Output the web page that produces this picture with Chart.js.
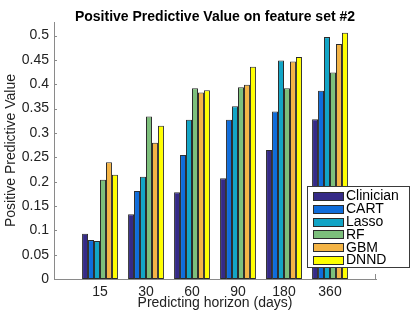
<!DOCTYPE html>
<html>
<head>
<meta charset="utf-8">
<script src="https://cdn.jsdelivr.net/npm/chart.js@4"></script>
<style>
  html, body { margin: 0; padding: 0; background: #fff; }
  #wrap { width: 415px; height: 312px; position: relative; }
</style>
</head>
<body>
<div id="wrap"><canvas id="chart1"></canvas></div>
<script>
// data
var categories = ['15', '30', '60', '90', '180', '360'];
var methods = ['Clinician', 'CART', 'Lasso', 'RF', 'GBM', 'DNND'];
var clinician = [0.093, 0.133, 0.178, 0.207, 0.265, 0.328];
var cart      = [0.080, 0.181, 0.255, 0.327, 0.344, 0.387];
var lasso     = [0.078, 0.210, 0.327, 0.355, 0.449, 0.497];
var rf        = [0.204, 0.334, 0.392, 0.394, 0.392, 0.424];
var gbm       = [0.240, 0.280, 0.383, 0.399, 0.447, 0.483];
var dnnd      = [0.214, 0.315, 0.388, 0.436, 0.456, 0.506];
var colors = ['#352a87', '#0f6ddb', '#12a5c6', '#7cbf7b', '#f4b445', '#ffff00'];

var font = "'Liberation Sans', Arial, Helvetica, sans-serif";
var axisColor = '#8a8a8a';

// empty slot on each side so the groups sit at 1..6 of [0, 7]
function pad(arr) { return [null].concat(arr, [null]); }

var series = [clinician, cart, lasso, rf, gbm, dnnd];
var datasets = series.map(function (vals, i) {
  return {
    label: methods[i],
    data: pad(vals),
    backgroundColor: colors[i],
    borderColor: '#2b2b2b',
    borderWidth: 1,
    borderSkipped: false,
    barPercentage: 1.0,
    categoryPercentage: 0.78
  };
});

// title, inward ticks and the boxed legend
var decor = {
  id: 'decor',
  afterDraw: function (chart) {
    var ctx = chart.ctx;
    var a = chart.chartArea;
    var y = chart.scales.y;
    ctx.save();
    ctx.fillStyle = '#000';
    ctx.font = 'bold 14px ' + font;
    ctx.textAlign = 'center';
    ctx.textBaseline = 'alphabetic';
    ctx.fillText('Positive Predictive Value on feature set #2', (a.left + a.right) / 2, 21);

    ctx.strokeStyle = axisColor;
    ctx.lineWidth = 1;
    ctx.beginPath();
    y.ticks.forEach(function (t) {
      var py = Math.round(y.getPixelForValue(t.value)) + 0.5;
      ctx.moveTo(a.left, py);
      ctx.lineTo(a.left + 3, py);
    });
    var rx = Math.round(a.right) - 0.5;
    ctx.moveTo(rx, a.bottom);
    ctx.lineTo(rx, a.bottom - 5);
    ctx.stroke();

    // legend box
    var lx = 307.5, ly = 186.5, lw = 102, lh = 81;
    ctx.fillStyle = '#fff';
    ctx.fillRect(lx, ly, lw, lh);
    ctx.strokeStyle = '#3a3a3a';
    ctx.strokeRect(lx, ly, lw, lh);
    ctx.font = '14px ' + font;
    ctx.textAlign = 'left';
    ctx.textBaseline = 'middle';
    chart.data.datasets.forEach(function (ds, i) {
      var cy = 196 + i * 12.8;
      ctx.fillStyle = ds.backgroundColor;
      ctx.fillRect(313.5, Math.round(cy - 4) + 0.5, 30, 8);
      ctx.strokeStyle = '#2b2b2b';
      ctx.strokeRect(313.5, Math.round(cy - 4) + 0.5, 30, 8);
      ctx.fillStyle = '#000';
      ctx.fillText(ds.label, 346, cy + 0.5);
    });
    ctx.restore();
  }
};

var graph = document.getElementById('chart1');

var myChart = new Chart(graph, {
  type: 'bar',
  data: {
    labels: pad(categories).map(function (c) { return c === null ? '' : c; }),
    datasets: datasets
  },
  options: {
    responsive: true,
    maintainAspectRatio: false,
    animation: false,
    layout: { padding: { top: 22, right: 39, left: 0, bottom: 0 } },
    plugins: {
      legend: { display: false },
      title: { display: false },
      tooltip: { enabled: false }
    },
    scales: {
      x: {
        offset: false,
        grid: { display: false, drawTicks: false },
        border: { display: true, color: axisColor, width: 1 },
        ticks: { color: '#222', font: { family: font, size: 14 }, padding: 5, maxRotation: 0, autoSkip: false },
        title: { display: true, text: 'Predicting horizon (days)', color: '#222', font: { family: font, size: 14 }, padding: { top: -4, bottom: 0 } },
        afterFit: function (s) { s.height = 33; }
      },
      y: {
        min: 0,
        max: 0.528,
        grid: { display: false, drawTicks: false },
        border: { display: true, color: axisColor, width: 1 },
        ticks: {
          stepSize: 0.05,
          includeBounds: false,
          color: '#222',
          padding: 5,
          font: { family: font, size: 14 },
          callback: function (v) { return String(+v.toFixed(2)); }
        },
        title: { display: true, text: 'Positive Predictive Value', color: '#222', font: { family: font, size: 14 }, padding: { top: 3, bottom: 0 } },
        afterFit: function (s) { s.width = 54; }
      }
    }
  },
  plugins: [decor]
}); // ends the chart
</script>
</body>
</html>
